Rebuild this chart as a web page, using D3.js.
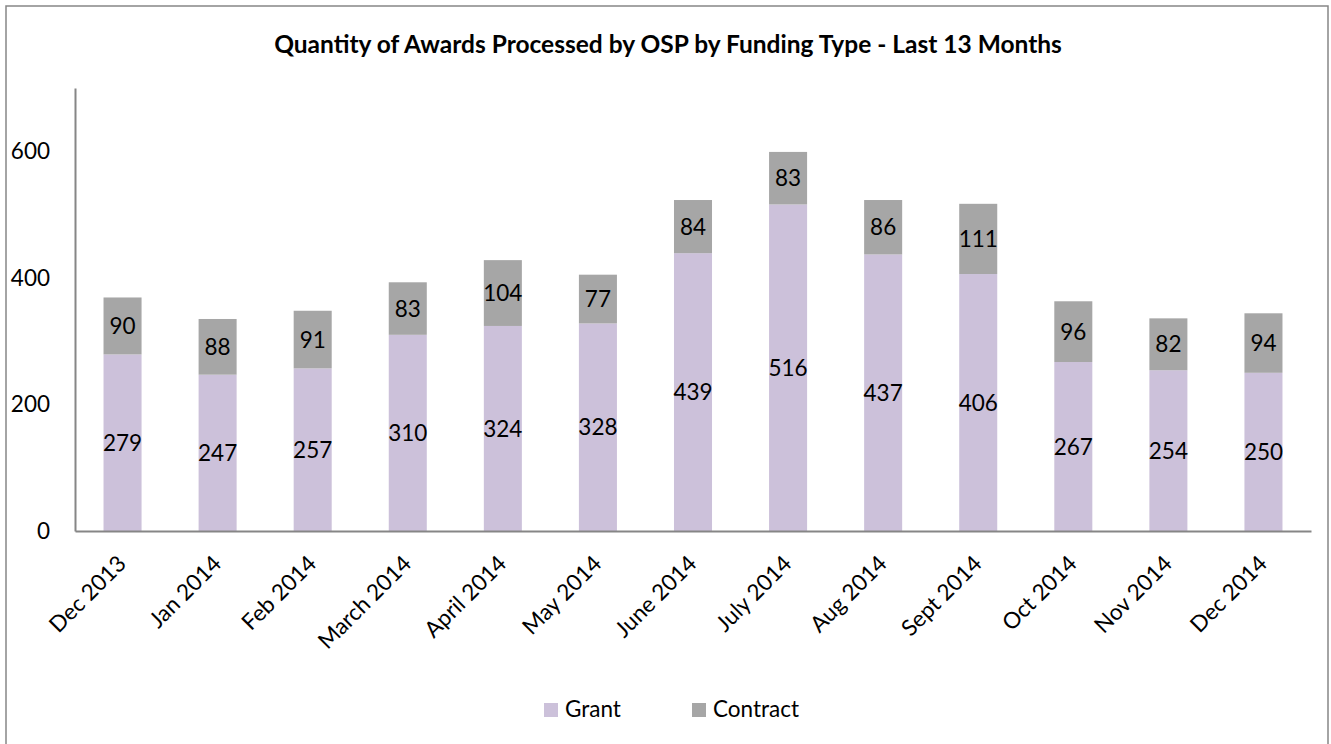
<!DOCTYPE html>
<html><head><meta charset="utf-8">
<script src="https://cdn.jsdelivr.net/npm/d3@7"></script>
<style>body{margin:0;background:#fff}svg{display:block;font-family:Lato,"Open Sans",sans-serif}</style>
</head><body><svg id="c" width="1331" height="744"></svg>
<script>
const categories = ["Dec 2013","Jan 2014","Feb 2014","March 2014","April 2014","May 2014","June 2014","July 2014","Aug 2014","Sept 2014","Oct 2014","Nov 2014","Dec 2014"];
const grant = [279,247,257,310,324,328,439,516,437,406,267,254,250];
const contract = [90,88,91,83,104,77,84,83,86,111,96,82,94];
const seriesNames = ["Grant","Contract"];
const colors = ["#CCC1DA","#A6A6A6"];
const yTicks = [0,200,400,600];
const title = "Quantity of Awards Processed by OSP by Funding Type - Last 13 Months";

const FS = 22.5;
const svg = d3.select("#c");
svg.append("rect").attr("x",6).attr("y",6).attr("width",1322).attr("height",745)
  .attr("fill","#fff").attr("stroke","#868686").attr("stroke-width",1.5);

const x = d3.scaleBand().domain(categories).range([75,1311]).paddingInner(0.6).paddingOuter(0.3);
const y = d3.scaleLinear().domain([0,700]).range([531,88]);

svg.append("text").attr("x",668).attr("y",53).attr("text-anchor","middle")
  .attr("font-weight","bold").attr("font-size",24.5).text(title);

const rows = categories.map((c,i)=>({cat:c, Grant:grant[i], Contract:contract[i]}));
const stack = d3.stack().keys(seriesNames)(rows);

stack.forEach((s,si)=>{
  const g = svg.append("g");
  g.selectAll("rect").data(s).join("rect")
    .attr("x",d=>x(d.data.cat)).attr("width",x.bandwidth())
    .attr("y",d=>y(d[1])).attr("height",d=>y(d[0])-y(d[1]))
    .attr("fill",colors[si]);
  g.selectAll("text").data(s).join("text")
    .attr("x",d=>x(d.data.cat)+x.bandwidth()/2)
    .attr("y",d=>(y(d[0])+y(d[1]))/2)
    .attr("dy","0.36em").attr("text-anchor","middle").attr("font-size",FS).attr("fill","#000")
    .text(d=>d[1]-d[0]);
});

// y axis
const ya = svg.append("g").attr("transform","translate(75,0)").call(d3.axisLeft(y).tickValues(yTicks).tickSize(0).tickPadding(25));
ya.select(".domain").attr("stroke","#868686").attr("stroke-width",2);
ya.selectAll("text").attr("font-size",FS).attr("font-family","Lato,sans-serif").attr("fill","#000");

// x axis
const xa = svg.append("g").attr("transform","translate(0,531)").call(d3.axisBottom(x).tickSize(0).tickSizeOuter(0));
xa.select(".domain").attr("stroke","#868686").attr("stroke-width",2);
xa.selectAll("text").attr("font-size",FS).attr("font-family","Lato,sans-serif").attr("fill","#000")
  .attr("text-anchor","end").attr("dy",0).attr("y",0)
  .attr("transform","translate(5,34) rotate(-45)");

// legend
const lx = [544,692];
seriesNames.forEach((n,i)=>{
  svg.append("rect").attr("x",lx[i]).attr("y",703).attr("width",14).attr("height",14).attr("fill",colors[i]);
  svg.append("text").attr("x",lx[i]+21).attr("y",717).attr("font-size",FS).text(n);
});
</script></body></html>
